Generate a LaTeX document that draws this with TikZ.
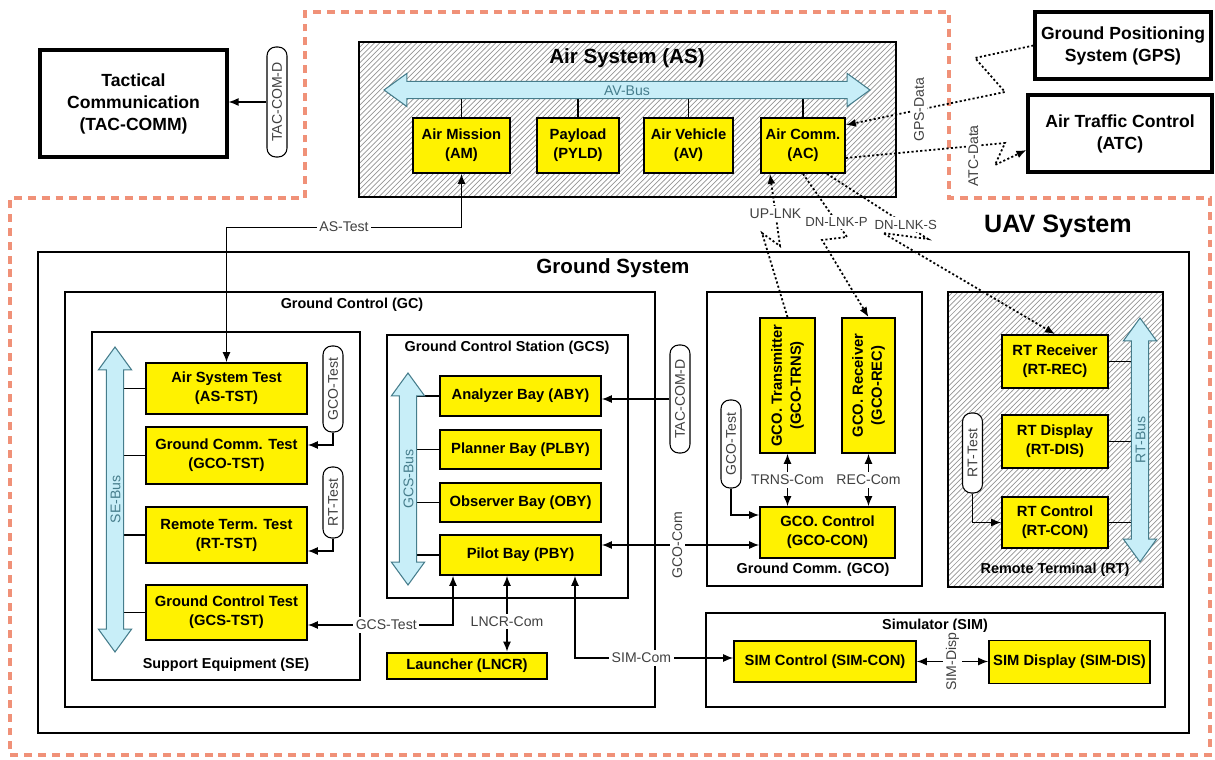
\documentclass[tikz,border=0pt]{standalone}
\usepackage{fontspec}
\setmainfont{Liberation Sans}
\usetikzlibrary{arrows.meta,shapes.arrows,patterns}
\definecolor{uavO}{RGB}{240,145,120}
\definecolor{busC}{RGB}{200,238,248}
\definecolor{busT}{RGB}{70,125,140}
\tikzset{
 cont/.style={draw,line width=1.5pt,fill=white,inner sep=0pt},
 hatch/.style={draw,line width=1.5pt,pattern=north east lines,pattern color=black!42,inner sep=0pt},
 ybox/.style={draw,line width=1pt,fill=yellow,font=\fontsize{8.4}{10.8}\selectfont\bfseries,align=center,inner sep=1pt},
 ext/.style={draw,line width=1.8pt,fill=white,font=\fontsize{10}{12.5}\selectfont\bfseries,align=center},
 ttl/.style={font=\fontsize{11.7}{14}\selectfont\bfseries,inner sep=1pt},
 sttl/.style={font=\fontsize{8.2}{10}\selectfont\bfseries,inner sep=1pt},
 lbl/.style={font=\fontsize{8}{9.6}\selectfont,fill=white,inner sep=1.5pt,text=black!75},
 capsule/.style={draw,line width=0.6pt,fill=white,rounded corners=5pt,rotate=90,minimum height=0.4cm,inner xsep=3.5pt,inner ysep=0pt,font=\fontsize{8}{9.6}\selectfont,text=black!75},
 bus/.style={double arrow,draw=busT,fill=busC,line width=0.6pt,double arrow head extend=0.16cm,double arrow tip angle=72,inner xsep=0pt,inner ysep=1.6pt,text height=6pt,text depth=0pt,font=\fontsize{8}{9.6}\selectfont,text=busT},
 wire/.style={line width=0.7pt},
 radio/.style={line width=1pt,dash pattern=on 1.2pt off 1.3pt}
}
\begin{document}
\begin{tikzpicture}[x=0.02cm,y=-0.02cm,>={Latex[length=2mm,width=1.6mm]}]
\useasboundingbox (0,0) rectangle (1215,760);
\draw[uavO,line width=2.3pt,dash pattern=on 4.5pt off 3.4pt] (305,198)--(305,12)--(949,12)--(949,198)--(1210,198)--(1210,755)--(10,755)--(10,198)--cycle;
\node[cont,minimum width=23.02cm,minimum height=9.62cm] (gs) at (613.5,492.5) {};
\node[cont,minimum width=11.8cm,minimum height=8.3cm] (gc) at (360,499.5) {};
\node[cont,minimum width=5.36cm,minimum height=6.96cm] (se) at (226,506) {};
\node[cont,minimum width=4.82cm,minimum height=5.26cm] (gcs) at (507.5,466.5) {};
\node[cont,minimum width=4.3cm,minimum height=5.88cm] (gco) at (814.5,439) {};
\node[hatch,minimum width=4.3cm,minimum height=5.9cm] (rt) at (1055.5,439.5) {};
\node[cont,minimum width=9.18cm,minimum height=1.88cm] (sim) at (935.5,660) {};
\node[hatch,minimum width=10.74cm,minimum height=3.1cm] (as) at (627.5,119.5) {};
\node[ext,minimum width=3.74cm,minimum height=2.14cm] (tac) at (133.5,103.5) {Tactical\\Communication\\(TAC-COMM)};
\node[ext,minimum width=3.52cm,minimum height=1.34cm] (gps) at (1123,45.5) {Ground Positioning\\System (GPS)};
\node[ext,minimum width=3.68cm,minimum height=1.54cm] (atc) at (1120,133.5) {Air Traffic Control\\(ATC)};
\node[ttl] (as-t) at (627,58) {Air System (AS)};
\node[ttl,font=\fontsize{14.3}{17}\selectfont\bfseries] (uav-t) at (1058,226) {UAV System};
\node[ttl] (gs-t) at (613,268) {Ground System};
\node[sttl] (gc-t) at (352,305) {Ground Control (GC)};
\node[sttl] (se-t) at (226,665) {Support Equipment (SE)};
\node[sttl] (gcs-t) at (507,348) {Ground Control Station (GCS)};
\node[sttl] (gco-t) at (813,570) {Ground Comm. (GCO)};
\node[sttl] (rt-t) at (1055,570) {Remote Terminal (RT)};
\node[sttl] (sim-t) at (935,626) {Simulator (SIM)};
\node[ybox,minimum width=1.94cm,minimum height=1.1cm] (am) at (461.5,145.5) {Air Mission\\(AM)};
\node[ybox,minimum width=1.64cm,minimum height=1.1cm] (pyld) at (578,145.5) {Payload\\(PYLD)};
\node[ybox,minimum width=1.78cm,minimum height=1.1cm] (av) at (688.5,145.5) {Air Vehicle\\(AV)};
\node[ybox,minimum width=1.68cm,minimum height=1.1cm] (ac) at (803,145.5) {Air Comm.\\(AC)};
\node[ybox,minimum width=3.22cm,minimum height=1.02cm] (astst) at (226.5,388.5) {Air System Test\\(AS-TST)};
\node[ybox,minimum width=3.22cm,minimum height=1.14cm] (gcotst) at (226.5,455.5) {Ground Comm. Test\\(GCO-TST)};
\node[ybox,minimum width=3.22cm,minimum height=1.12cm] (rttst) at (226.5,535) {Remote Term. Test\\(RT-TST)};
\node[ybox,minimum width=3.22cm,minimum height=1.1cm] (gcstst) at (226.5,612.5) {Ground Control Test\\(GCS-TST)};
\node[ybox,minimum width=3.22cm,minimum height=0.8cm] (aby) at (520.5,396) {Analyzer Bay (ABY)};
\node[ybox,minimum width=3.22cm,minimum height=0.78cm] (plby) at (520.5,449.5) {Planner Bay (PLBY)};
\node[ybox,minimum width=3.22cm,minimum height=0.78cm] (oby) at (520.5,502.5) {Observer Bay (OBY)};
\node[ybox,minimum width=3.22cm,minimum height=0.8cm] (pby) at (520.5,555) {Pilot Bay (PBY)};
\node[ybox,line width=1.6pt,minimum width=3.2cm,minimum height=0.52cm] (lncr) at (467,666) {Launcher (LNCR)};
\node[ybox,rotate=90,minimum width=2.7cm,minimum height=1.1cm] (trns) at (787.5,385.5) {GCO. Transmitter\\(GCO-TRNS)};
\node[ybox,rotate=90,minimum width=2.7cm,minimum height=1.06cm] (rec) at (868.5,385.5) {GCO. Receiver\\(GCO-REC)};
\node[ybox,minimum width=2.7cm,minimum height=1.02cm] (gcocon) at (827.5,532.5) {GCO. Control\\(GCO-CON)};
\node[ybox,minimum width=2.12cm,minimum height=1.06cm] (rtrec) at (1055,361.5) {RT Receiver\\(RT-REC)};
\node[ybox,minimum width=2.12cm,minimum height=1.06cm] (rtdis) at (1055,441.5) {RT Display\\(RT-DIS)};
\node[ybox,minimum width=2.12cm,minimum height=1.02cm] (rtcon) at (1055,522.5) {RT Control\\(RT-CON)};
\node[ybox,minimum width=3.64cm,minimum height=0.82cm] (simcon) at (825,661.5) {SIM Control (SIM-CON)};
\node[ybox,minimum width=3.22cm,minimum height=0.86cm] (simdis) at (1069.5,662) {SIM Display (SIM-DIS)};
\node[capsule,minimum width=2.2cm] (tacd1) at (277,102) {TAC-COM-D};
\node[capsule,minimum width=2.16cm] (tacd2) at (680,399) {TAC-COM-D};
\node[capsule,minimum width=1.72cm] (gcotest1) at (333,389) {GCO-Test};
\node[capsule,minimum width=1.42cm] (rttest1) at (333,502.5) {RT-Test};
\node[capsule,minimum width=1.76cm] (gcotest2) at (731,444) {GCO-Test};
\node[capsule,minimum width=1.6cm] (rttest2) at (972.5,453) {RT-Test};
\coordinate (avb) at (627,90);
\coordinate (seb) at (115,499.5);
\coordinate (gcsb) at (408,479);
\coordinate (rtb) at (1140,440);
\foreach \b in {am,pyld,av,ac} \draw[wire] (\b.north) -- (\b.north |- avb);
\foreach \b in {astst,gcotst,rttst,gcstst} \draw[wire] (\b.west) -- (\b.west -| seb);
\foreach \b in {aby,plby,oby,pby} \draw[wire] (\b.west) -- (\b.west -| gcsb);
\foreach \b in {rtrec,rtdis,rtcon} \draw[wire] (\b.east) -- (\b.east -| rtb);
\node[bus,minimum height=9.72cm] (avbus) at (avb) {AV-Bus};
\node[bus,rotate=90,minimum height=6.1cm] (sebus) at (seb) {SE-Bus};
\node[bus,rotate=90,minimum height=4.24cm] (gcsbus) at (gcsb) {GCS-Bus};
\node[bus,rotate=90,minimum height=4.88cm] (rtbus) at (rtb) {RT-Bus};
\draw[->,wire] (tacd1.north) -- (tacd1.north -| tac.east);
\draw[->,wire] (tacd2.north) -- (tacd2.north -| aby.east);
\draw[<->,wire] (astst.north) -- ++(0,-135) -| node[lbl,pos=.25] (astest) {AS-Test} (am.south);
\draw[->,wire] (gcotest1.west) |- ([yshift=0.21cm]gcotst.east);
\draw[->,wire] (rttest1.west) |- ([yshift=-0.32cm]rttst.east);
\draw[<->,wire] ([yshift=-0.25cm]gcstst.east) -| node[lbl,pos=.27] (gcstest) {GCS-Test} ([xshift=-1.35cm]pby.south);
\draw[<->,wire] ([xshift=-0.27cm]pby.south) -- ([xshift=-0.27cm]pby.south |- lncr.north) node[lbl,pos=.6] (lncrcom) {LNCR-Com};
\draw[<->,wire] ([xshift=1.09cm]pby.south) |- node[lbl,pos=.71] (simcom) {SIM-Com} ([yshift=0.07cm]simcon.west);
\draw[<->,wire] ([yshift=0.2cm]pby.east) -- ([yshift=0.2cm]pby.east -| gcocon.west) node[lbl,rotate=90,pos=.48] (gcocom) {GCO-Com};
\draw[->,wire] (gcotest2.west) |- ([yshift=0.35cm]gcocon.west);
\draw[<->,wire] (trns.west) -- (trns.west |- gcocon.north) node[lbl,midway] (trnscom) {TRNS-Com};
\draw[<->,wire] (rec.west) -- (rec.west |- gcocon.north) node[lbl,midway] (reccom) {REC-Com};
\draw[->,wire] (rttest2.west) |- (rtcon.west);
\draw[<->,wire] (simcon.east) -- (simcon.east -| simdis.west) node[lbl,rotate=90,midway] (simdisp) {SIM-Disp};
\draw[->,radio] (gps.west) -- (975,58) -- (1005,92) -- node[lbl,rotate=90,pos=.54] (gpsdata) {GPS-Data} ([yshift=0.41cm]ac.east);
\draw[->,radio] ([yshift=-0.25cm]ac.east) -- node[lbl,yshift=-0.2cm,rotate=90,pos=.8] (atcdata) {ATC-Data} (1005,143) -- (995,165) -- ([yshift=-0.33cm]atc.west);
\draw[->,radio] (trns.east) -- (762,233) -- (780,246) -- node[lbl,pos=.45] (uplnk) {UP-LNK} ([xshift=-0.66cm]ac.south);
\draw[->,radio] (ac.south) -- node[lbl,font=\fontsize{7.5}{9}\selectfont,pos=.76] (dnlnkp) {DN-LNK-P} (847,237) -- (822,240) -- (rec.east);
\draw[->,radio] ([xshift=0.48cm]ac.south) -- node[lbl,font=\fontsize{7.5}{9}\selectfont,pos=.78] (dnlnks) {DN-LNK-S} (928,239) -- (883,233) -- (rtrec.north);
\end{tikzpicture}
\end{document}
